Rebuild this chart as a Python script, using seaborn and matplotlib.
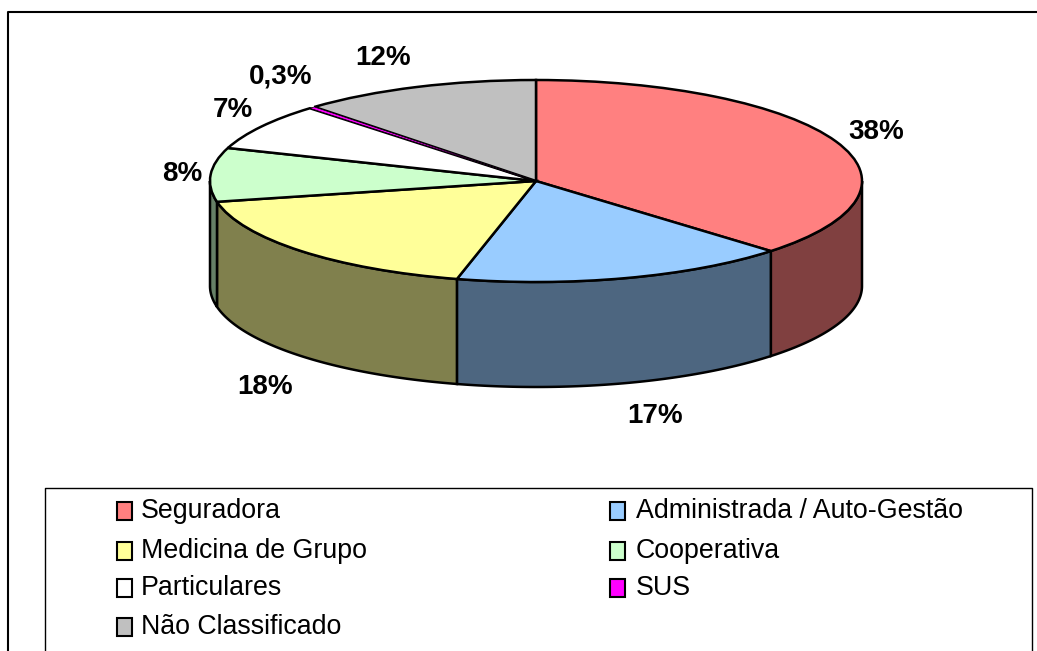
import numpy as np
import matplotlib
matplotlib.use("Agg")
import matplotlib.pyplot as plt
from matplotlib.patches import Rectangle
from matplotlib.transforms import Affine2D
import seaborn as sns

categorias = ['Seguradora', 'Administrada / Auto-Gestão', 'Medicina de Grupo', 'Cooperativa',
              'Particulares', 'SUS', 'Não Classificado']
valores = [37.2, 16.7, 17.8, 8.6, 7.5, 0.3, 11.9]
rotulos = ['38%', '17%', '18%', '8%', '7%', '0,3%', '12%']
cores = ['#FF8080', '#99CCFF', '#FFFF99', '#CCFFCC', '#FFFFFF', '#FF00FF', '#C0C0C0']

# posicao dos rotulos em pixels da imagem
rotulos_x = [876, 655, 265, 182, 233, 281, 383]
rotulos_y = [132, 416, 387, 174, 110, 77, 58]

cx, cy, rx, ry, altura = 536, 181, 326, 101, 105

sns.set_theme(style="white")
plt.rcParams['font.family'] = ['Liberation Sans', 'DejaVu Sans']

paleta = sns.color_palette(cores)
fig, ax = plt.subplots(figsize=(10.37, 6.51), dpi=100)
fig.subplots_adjust(0, 0, 1, 1)

# tampa da pizza achatada em elipse
fatias, _ = ax.pie(valores, colors=paleta, startangle=90, counterclock=False,
                   wedgeprops={'edgecolor': 'black', 'linewidth': 1.8})
ax.set_aspect('auto')
ax.set_xlim(0, 1037)
ax.set_ylim(651, 0)
ax.axis('off')
elipse = Affine2D().scale(rx, -ry).translate(cx, cy) + ax.transData
for f in fatias:
    f.set_transform(elipse)
    f.set_zorder(5)
# fatia do SUS e muito fina, a borda escondia a cor
fatias[5].set_linewidth(0.5)
fatias[5].set_zorder(6)

# lateral: so a metade da frente aparece
ini = 0
for v, c in zip(valores, paleta):
    a1, a2 = ini, ini + v * 3.6
    ini = a2
    a1 = max(a1, 90)
    a2 = min(a2, 270)
    if a2 <= a1:
        continue
    t = np.radians(np.linspace(a1, a2, 80))
    xs = cx + rx * np.sin(t)
    ys = cy - ry * np.cos(t)
    ax.fill(np.r_[xs, xs[::-1]], np.r_[ys, ys[::-1] + altura],
            color=tuple(k * 0.5 for k in c), ec='black', lw=1.8, zorder=3)

for txt, x, y in zip(rotulos, rotulos_x, rotulos_y):
    ax.text(x, y, txt, fontsize=20, fontweight='bold', ha='center', va='center', color='black')

# moldura externa e caixa da legenda
ax.plot([8, 8, 1037], [651, 12, 12], color='black', lw=1.5)
ax.plot([45, 45, 1032, 1032], [651, 488, 488, 651], color='black', lw=1.0)

for i, (nome, c) in enumerate(zip(categorias, paleta)):
    y = [511, 551, 588, 627][i // 2]
    x = [117, 610][i % 2]
    ax.add_patch(Rectangle((x, y - 9), 15, 18, fc=c, ec='black', lw=1.5))
    ax.text(x + [24, 26][i % 2], y, nome, fontsize=19.3, ha='left', va='center', color='black')

fig.savefig('out.png', dpi=100)
